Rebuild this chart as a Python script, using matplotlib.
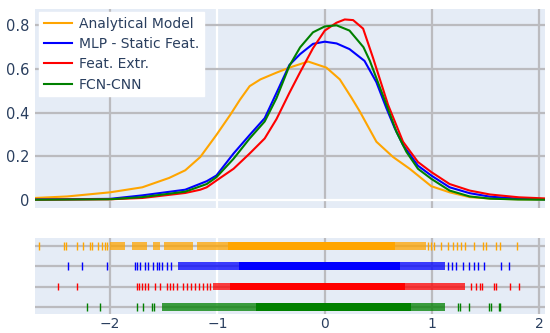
import numpy as np
import matplotlib.pyplot as plt

# ==============================
# Data
# ==============================
series_names = ["Analytical Model", "MLP - Static Feat.", "Feat. Extr.", "FCN-CNN"]
series_colors = ["#FFA500", "#0000FF", "#FF0000", "#008000"]

# KDE curves (x, density)
analytical_x = [-2.70, -2.40, -2.00, -1.70, -1.45, -1.30, -1.16, -1.01, -0.88, -0.79, -0.70,
                -0.60, -0.45, -0.33, -0.155, 0.015, 0.14, 0.25, 0.326, 0.481, 0.636, 0.791,
                0.992, 1.163, 1.35, 1.55, 1.80, 2.05]
analytical_y = [0.008, 0.015, 0.034, 0.057, 0.100, 0.135, 0.196, 0.297, 0.390, 0.459, 0.521,
                0.552, 0.583, 0.606, 0.634, 0.606, 0.552, 0.467, 0.405, 0.266, 0.196, 0.142,
                0.062, 0.034, 0.012, 0.005, 0.002, 0.001]

mlp_x = [-2.70, -2.00, -1.70, -1.30, -1.10, -1.01, -0.85, -0.70, -0.56, -0.45, -0.33, -0.23,
         -0.11, 0.0, 0.11, 0.23, 0.37, 0.48, 0.574, 0.65, 0.729, 0.868, 0.992, 1.163, 1.35,
         1.54, 1.80, 2.05]
mlp_y = [0.001, 0.004, 0.020, 0.046, 0.085, 0.111, 0.212, 0.297, 0.374, 0.490, 0.618, 0.668,
         0.715, 0.725, 0.717, 0.691, 0.637, 0.540, 0.420, 0.330, 0.251, 0.156, 0.111, 0.057,
         0.030, 0.014, 0.005, 0.002]

feat_x = [-2.70, -2.00, -1.70, -1.30, -1.16, -1.10, -1.01, -0.85, -0.70, -0.56, -0.45, -0.33,
          -0.23, -0.11, 0.0, 0.109, 0.186, 0.264, 0.357, 0.45, 0.589, 0.729, 0.868, 0.992,
          1.163, 1.35, 1.54, 1.81, 2.05]
feat_y = [0.0, 0.002, 0.008, 0.031, 0.046, 0.057, 0.088, 0.142, 0.212, 0.281, 0.370, 0.490,
          0.585, 0.695, 0.776, 0.812, 0.827, 0.824, 0.785, 0.650, 0.436, 0.266, 0.173, 0.127,
          0.072, 0.042, 0.024, 0.011, 0.006]

fcn_x = [-2.70, -2.00, -1.70, -1.30, -1.10, -1.01, -0.85, -0.70, -0.56, -0.45, -0.33, -0.23,
         -0.11, 0.0, 0.11, 0.23, 0.36, 0.42, 0.574, 0.667, 0.76, 0.868, 0.992, 1.163, 1.35,
         1.54, 1.80, 2.05]
fcn_y = [0.0, 0.002, 0.012, 0.037, 0.072, 0.103, 0.188, 0.281, 0.359, 0.466, 0.614, 0.699,
         0.768, 0.795, 0.800, 0.776, 0.700, 0.637, 0.436, 0.312, 0.220, 0.142, 0.096, 0.042,
         0.015, 0.005, 0.001, 0.0]

curves_x = [analytical_x, mlp_x, feat_x, fcn_x]
curves_y = [analytical_y, mlp_y, feat_y, fcn_y]

# Rug: isolated ticks, sparse (semi-dense) spans and solid spans
analytical_ticks = [-2.667, -2.425, -2.409, -2.31, -2.254, -2.192, -2.167, -2.115, -2.077,
                    -2.047, -2.025, 0.961, 0.992, 1.017, 1.079, 1.147, 1.194, 1.234, 1.265,
                    1.309, 1.389, 1.473, 1.504, 1.591, 1.634, 1.789]
analytical_sparse = [(-2.0, -1.86), (-1.80, -1.66), (-1.60, -1.535), (-1.50, -1.23),
                     (-1.19, -0.90), (0.651, 0.946)]
analytical_solid = [(-0.90, 0.651)]

mlp_ticks = [-2.394, -2.263, -2.025, -1.767, -1.752, -1.721, -1.674, -1.643, -1.597, -1.56,
             -1.541, -1.519, -1.473, -1.435, 1.147, 1.188, 1.225, 1.287, 1.34, 1.386, 1.426,
             1.479, 1.643, 1.715]
mlp_sparse = [(-1.364, -0.80), (0.698, 1.116)]
mlp_solid = [(-0.80, 0.698)]

feat_ticks = [-2.481, -2.31, -1.746, -1.727, -1.705, -1.674, -1.643, -1.581, -1.535, -1.473,
              -1.442, -1.411, -1.38, -1.318, -1.287, -1.25, -1.21, -1.169, -1.132, -1.101,
              -1.07, 1.364, 1.411, 1.442, 1.463, 1.581, 1.597, 1.73, 1.814]
feat_sparse = [(-1.04, -0.88), (0.75, 1.302)]
feat_solid = [(-0.88, 0.75)]

fcn_ticks = [-2.211, -2.093, -1.752, -1.69, -1.612, -1.591, 1.24, 1.256, 1.343, 1.529, 1.55,
             1.619, 1.637]
fcn_sparse = [(-1.519, -0.64), (0.806, 1.122)]
fcn_solid = [(-0.64, 0.806)]

rug_ticks = [analytical_ticks, mlp_ticks, feat_ticks, fcn_ticks]
rug_sparse = [analytical_sparse, mlp_sparse, feat_sparse, fcn_sparse]
rug_solid = [analytical_solid, mlp_solid, feat_solid, fcn_solid]

x_ticks = [-2, -1, 0, 1, 2]
y_ticks = [0, 0.2, 0.4, 0.6, 0.8]
y_tick_labels = ["0", "0.2", "0.4", "0.6", "0.8"]

# ==============================
# Style
# ==============================
BG = "#E5ECF6"
GRID = "#BBBBBF"
TEXT = "#2a3f5f"
X_LIM = (-2.70, 2.05)

plt.rcParams['font.family'] = ['DejaVu Sans']

fig = plt.figure(figsize=(5.5, 3.33), dpi=100)
ax = fig.add_axes([0.0636, 0.376, 0.927, 0.597])
rug = fig.add_axes([0.0636, 0.056, 0.927, 0.230])

for a in (ax, rug):
    a.set_facecolor(BG)
    for s in a.spines.values():
        s.set_visible(False)
    a.set_xlim(*X_LIM)
    a.set_axisbelow(True)
    # vertical grid: x=-1 drawn white, others gray (as in the reference)
    for xt in x_ticks:
        a.axvline(xt, color="white" if xt == -1 else GRID, lw=1.6, zorder=0)

# ---- main KDE panel ----
for yt in y_ticks[1:]:
    ax.axhline(yt, color=GRID, lw=1.6, zorder=0)
ax.axhline(0, color="white", lw=1.6, zorder=0.5)

for name, c, xs, ys in zip(series_names, series_colors, curves_x, curves_y):
    ax.plot(xs, ys, color=c, lw=1.5, label=name, solid_joinstyle="round")

ax.set_ylim(-0.037, 0.875)
ax.set_yticks(y_ticks)
ax.set_yticklabels(y_tick_labels)
ax.set_xticks(x_ticks)
ax.tick_params(axis="x", labelbottom=False, length=0)
ax.tick_params(axis="y", length=0, pad=4, labelsize=10.5, labelcolor=TEXT)

leg = ax.legend(loc="upper left", bbox_to_anchor=(0.008, 0.985), frameon=True,
                fancybox=False, framealpha=1.0, edgecolor="white", fontsize=10,
                handlelength=2.0, handletextpad=0.5, labelspacing=0.45,
                borderpad=0.35, borderaxespad=0.0)
for t in leg.get_texts():
    t.set_color(TEXT)

# ---- rug panel ----
n = len(series_names)
tick_h = 0.19
for i, c in enumerate(series_colors):
    row = n - 1 - i
    rug.axhline(row, color=GRID, lw=1.6, zorder=0.5)
    rug.vlines(rug_ticks[i], row - tick_h, row + tick_h, color=c, lw=1.0, zorder=2)
    for x0, x1 in rug_sparse[i]:
        rug.fill_between([x0, x1], row - tick_h, row + tick_h, color=c, alpha=0.75,
                         lw=0, zorder=2)
    for x0, x1 in rug_solid[i]:
        rug.fill_between([x0, x1], row - tick_h, row + tick_h, color=c, lw=0, zorder=2)

rug.set_ylim(-0.36, n - 1 + 0.39)
rug.set_yticks([])
rug.set_xticks(x_ticks)
rug.tick_params(axis="x", length=0, pad=2, labelsize=10, labelcolor=TEXT)

fig.savefig("out.png", dpi=100)
